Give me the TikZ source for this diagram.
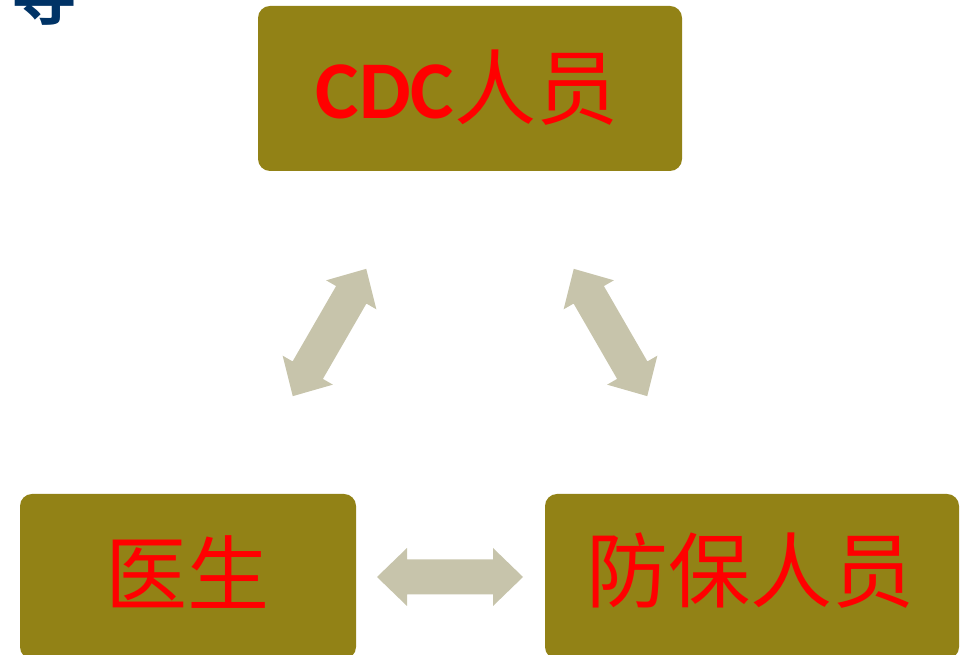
\documentclass[tikz,border=0pt]{standalone}
\usepackage{fontspec}
\setmainfont{Carlito}
\newfontfamily\cjk{Noto Sans CJK SC}
\newfontfamily\cjkb{Noto Sans CJK SC Bold}
\definecolor{boxolive}{RGB}{146,130,22}
\definecolor{arrowgray}{RGB}{199,196,171}
\definecolor{titleblue}{RGB}{0,51,102}
\tikzset{
  rolebox/.style={fill=boxolive, rounded corners=12pt, draw=none, inner sep=0pt},
  roletext/.style={text=red, inner sep=0pt},
  dblarrow/.style={fill=arrowgray, draw=none}
}
% \twoheadarrow{name}{center}{angle}{half length}
\newcommand{\twoheadarrow}[4]{%
  \begin{scope}[shift={#2}, rotate=#3]
    \coordinate (#1) at (0,0);
    \fill[dblarrow] (-#4,0) -- (-#4+30,29) -- (-#4+30,17.5) -- (#4-30,17.5) -- (#4-30,29)
      -- (#4,0) -- (#4-30,-29) -- (#4-30,-17.5) -- (-#4+30,-17.5) -- (-#4+30,-29) -- cycle;
  \end{scope}}
\begin{document}
\begin{tikzpicture}[x=1pt,y=1pt]
\useasboundingbox (0,0) rectangle (969,655);
\begin{scope}
\clip (0,0) rectangle (969,655);
% partial title character
\node[anchor=base, text=titleblue, inner sep=0pt, font=\cjkb\fontsize{66}{70}\selectfont] (title) at (45,635) {导};
% boxes
\path[rolebox] (258,484) rectangle (682,649);
\node[inner sep=0pt] (cdc) at (470,566.5) {};
\path[rolebox] (20,-4) rectangle (356,161);
\node[inner sep=0pt] (doc) at (188,78) {};
\path[rolebox] (545,-4) rectangle (959,161);
\node[inner sep=0pt] (fb) at (752,78) {};
% texts
\node[roletext] (cdct) at (467,567) {\fontsize{82}{90}\selectfont{\bfseries CDC}\cjk 人员};
\node[roletext] (doct) at (187,83) {\cjk\fontsize{82}{90}\selectfont 医生};
\node[roletext] (fbt) at (750,84) {\cjk\fontsize{82}{90}\selectfont 防保人员};
% arrows
\twoheadarrow{a1}{(329.5,322.5)}{60}{73.5}
\twoheadarrow{a2}{(610.5,322.5)}{120}{73.5}
\twoheadarrow{a3}{(450,78)}{0}{73}
\end{scope}
\end{tikzpicture}
\end{document}
